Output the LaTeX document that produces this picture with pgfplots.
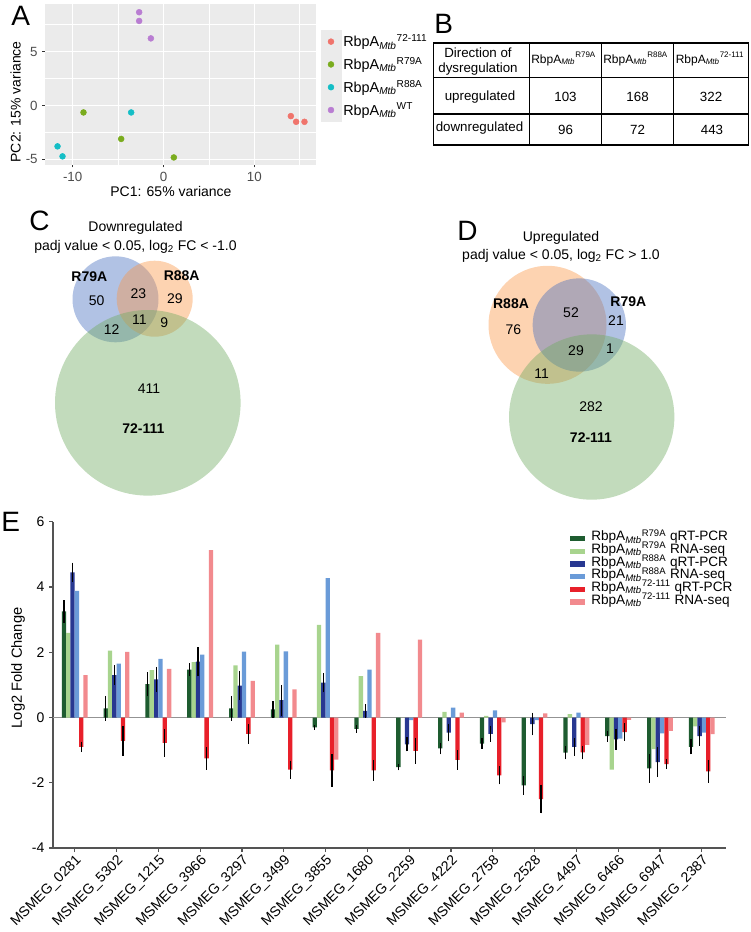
\documentclass[border=0pt]{standalone}
\usepackage{pgfplots}
\pgfplotsset{compat=1.18}
\usepackage{pgfplotstable}
\usepackage{fontspec}
\setmainfont{Liberation Sans}

\definecolor{ggbg}{gray}{0.922}
\definecolor{ggred}{RGB}{240,116,108}
\definecolor{gggreen}{RGB}{122,172,30}
\definecolor{ggcyan}{RGB}{20,190,198}
\definecolor{ggpurple}{RGB}{185,125,210}
\definecolor{gg30}{gray}{0.30}
\definecolor{gg20}{gray}{0.20}
\definecolor{vblue}{RGB}{70,110,190}
\definecolor{vorange}{RGB}{250,150,70}
\definecolor{vgreen}{RGB}{110,170,95}
\definecolor{cdg}{RGB}{30,92,48}
\definecolor{clg}{RGB}{168,212,142}
\definecolor{cdb}{RGB}{40,56,145}
\definecolor{clb}{RGB}{106,155,216}
\definecolor{crd}{RGB}{232,32,42}
\definecolor{cpk}{RGB}{242,138,142}
\definecolor{axgray}{gray}{0.33}

\pgfplotstableread{
x dg dge lg db dbe lb rd rde pk
0 3.25 0.35 2.59 4.45 0.30 3.88 -0.90 0.16 1.30
1 0.28 0.38 2.05 1.30 0.30 1.65 -0.72 0.45 2.01
2 1.02 0.37 1.45 1.17 0.38 1.80 -0.78 0.43 1.49
3 1.47 0.20 1.70 1.71 0.45 1.93 -1.25 0.35 5.13
4 0.28 0.38 1.60 0.98 0.45 2.02 -0.50 0.30 1.12
5 0.25 0.25 2.23 0.53 0.47 2.03 -1.60 0.28 0.86
6 -0.30 0.08 2.84 1.07 0.30 4.27 -1.62 0.50 -1.29
7 -0.35 0.12 1.27 0.20 0.20 1.47 -1.62 0.32 2.59
8 -1.52 0.10 0.00 -0.82 0.22 -0.08 -1.02 0.40 2.39
9 -0.95 0.18 0.17 -0.46 0.27 0.30 -1.30 0.30 0.15
10 -0.80 0.16 0.05 -0.50 0.25 0.22 -1.77 0.28 -0.15
11 -2.08 0.28 0.00 -0.20 0.35 -0.08 -2.50 0.44 0.13
12 -1.08 0.20 0.10 -0.90 0.27 0.15 -1.07 0.21 -0.84
13 -0.57 0.17 -1.60 -0.67 0.33 -0.65 -0.45 0.27 -0.07
14 -1.56 0.44 -0.97 -1.37 0.46 -0.49 -1.43 0.15 -0.41
15 -0.90 0.23 -0.27 -0.57 0.30 -0.46 -1.65 0.35 -0.51
}\Edata

\pgfplotsset{
  pcaleg/.style={legend image code/.code={\fill[ggbg] (-7.5pt,-8.35pt) rectangle (7.5pt,8.35pt); \draw[##1] plot coordinates {(0pt,0pt)};}},
  eleg/.style={legend image code/.code={\fill[##1] (0pt,-1.9pt) rectangle (11.25pt,1.9pt);}},
  venn/.style={only marks, mark=*, mark options={draw opacity=0, fill opacity=0.42}},
  ebar/.style={error bars/.cd, y dir=both, y explicit, error mark=none, error bar style={black, line width=0.9pt}},
  overlay/.style={at={(0pt,-699pt)}, anchor=south west, scale only axis,
    width=562.5pt, height=699pt, xmin=0, xmax=750, ymin=0, ymax=932,
    y dir=reverse, hide axis, clip=false},
}

\begin{document}
\begin{tikzpicture}
\path[use as bounding box] (0,0) rectangle (562.5pt,-699pt);
\begin{scope}[x=0.75pt,y=-0.75pt]
\coordinate (Aorig) at (45,164.65);
\coordinate (Eorig) at (53,848);
\end{scope}

% ---------------- overlay 1: Venn circles
\begin{axis}[overlay]
\addplot[venn, vblue, mark size=32.25pt] coordinates {(115.5,299.3)};
\addplot[venn, vorange, mark size=28.5pt] coordinates {(154.7,298.7)};
\addplot[venn, vgreen, mark size=69.6pt] coordinates {(147.8,402.8)};
\addplot[venn, vorange, mark size=44.25pt] coordinates {(547.5,324.8)};
\addplot[venn, vblue, mark size=35pt] coordinates {(579.3,325)};
\addplot[venn, vgreen, mark size=62pt] coordinates {(591.7,417)};
\end{axis}

% ---------------- overlay 2: letters, texts, table
\begin{axis}[overlay]
\begin{scope}[every node/.style={font=\fontsize{21}{24}\selectfont, inner sep=0pt, anchor=base west}]
\node at (axis cs:11,25) {A};
\node at (axis cs:434,33.3) {B};
\node at (axis cs:29,230) {C};
\node at (axis cs:457,240) {D};
\node at (axis cs:1,531.7) {E};
\end{scope}

\begin{scope}[every node/.style={font=\fontsize{10.5}{12}\selectfont, inner sep=0pt, anchor=base}]
\node at (axis cs:135.5,231.5) {Downregulated};
\node at (axis cs:135.5,250) {padj value < 0.05, log\textsubscript{2} FC < -1.0};
\node at (axis cs:89.3,281.7) {\textbf{R79A}};
\node at (axis cs:181.7,280) {\textbf{R88A}};
\node at (axis cs:96.7,305.5) {50};
\node at (axis cs:138.3,298) {23};
\node at (axis cs:175,303) {29};
\node at (axis cs:111.7,334) {12};
\node at (axis cs:139.3,324.8) {11};
\node at (axis cs:164.3,327.5) {9};
\node at (axis cs:149,393) {411};
\node at (axis cs:143.3,433) {\textbf{72-111}};
\node at (axis cs:561,241) {Upregulated};
\node at (axis cs:561,259.3) {padj value < 0.05, log\textsubscript{2} FC > 1.0};
\node at (axis cs:511,308.3) {\textbf{R88A}};
\node at (axis cs:628.3,306.7) {\textbf{R79A}};
\node at (axis cs:571,317.5) {52};
\node at (axis cs:616,325.5) {21};
\node at (axis cs:513.3,334.8) {76};
\node at (axis cs:576,355.8) {29};
\node at (axis cs:610,353) {1};
\node at (axis cs:541.7,378) {11};
\node at (axis cs:591,411.5) {282};
\node at (axis cs:591,442.5) {\textbf{72-111}};
\end{scope}

\draw[line width=0.9pt] (axis cs:433.3,43) rectangle (axis cs:748.5,145);
\draw[line width=0.9pt] (axis cs:433.3,77.3) -- (axis cs:748.5,77.3);
\draw[line width=0.9pt] (axis cs:433.3,114) -- (axis cs:748.5,114);
\draw[line width=0.9pt] (axis cs:529.5,43) -- (axis cs:529.5,145);
\draw[line width=0.9pt] (axis cs:601.5,43) -- (axis cs:601.5,145);
\draw[line width=0.9pt] (axis cs:673.7,43) -- (axis cs:673.7,145);
\begin{scope}[every node/.style={font=\fontsize{10}{12}\selectfont, inner sep=0pt, anchor=base}]
\node at (axis cs:478,57.5) {Direction of};
\node at (axis cs:478,72.5) {dysregulation};
\node at (axis cs:480,100.5) {upregulated};
\node at (axis cs:479.5,131.5) {downregulated};
\node at (axis cs:565.5,101.5) {103};
\node at (axis cs:637.6,101.5) {168};
\node at (axis cs:711.1,101.5) {322};
\node at (axis cs:565.5,134) {96};
\node at (axis cs:637.6,134) {72};
\node at (axis cs:712,134) {443};
\end{scope}
\begin{scope}[every node/.style={font=\fontsize{9}{11}\selectfont, inner sep=0pt, anchor=base west}]
\node at (axis cs:531,63) {RbpA\textsubscript{\textit{Mtb}}\textsuperscript{R79A}};
\node at (axis cs:603,63) {RbpA\textsubscript{\textit{Mtb}}\textsuperscript{R88A}};
\node at (axis cs:675.5,63) {RbpA\textsubscript{\textit{Mtb}}\textsuperscript{72-111}};
\end{scope}
\end{axis}

% ---------------- Panel A: PCA
\begin{axis}[at={(Aorig)}, anchor=south west, scale only axis,
  width=203.6pt, height=120.3pt,
  xmin=-13.05, xmax=16.85, ymin=-5.5, ymax=9.4,
  axis background/.style={fill=ggbg},
  axis line style={draw=none},
  xtick={-10,0,10}, ytick={-5,0,5},
  minor xtick={-5,5,15}, minor ytick={-2.5,2.5,7.5},
  xmajorgrids, ymajorgrids, xminorgrids, yminorgrids,
  major grid style={white, line width=0.9pt},
  minor grid style={white, line width=0.45pt},
  xtick pos=bottom, ytick pos=left,
  tick align=outside, major tick length=2pt, minor tick length=0pt,
  tick style={color=gg20, line width=0.6pt},
  /pgf/number format/assume math mode=true,
  ticklabel style={font=\fontsize{10}{12}\selectfont, text=gg30},
  xlabel={PC1: 65\% variance}, ylabel={PC2: 15\% variance},
  label style={font=\fontsize{10.5}{12}\selectfont},
  xlabel style={at={(axis description cs:0.464,-0.1686)}, anchor=center},
  ylabel style={at={(axis description cs:-0.108,0.392)}, anchor=center},
  legend style={at={(1.0147,0.8398)}, anchor=north west, draw=none, fill=none,
    inner sep=0pt, row sep=0pt, column sep=1pt,
    font=\fontsize{10.8}{12}\selectfont, nodes={inner sep=0.5pt}},
  legend cell align=left,
]
\addplot[only marks, mark=*, mark size=2.2pt, color=ggred, pcaleg] coordinates {(14.03,-0.99) (14.61,-1.52) (15.53,-1.52)};
\addlegendentry{RbpA\textsubscript{\textit{Mtb}}\textsuperscript{72-111}}
\addplot[only marks, mark=*, mark size=2.2pt, color=gggreen, pcaleg] coordinates {(-8.81,-0.65) (-4.66,-3.11) (1.14,-4.83)};
\addlegendentry{RbpA\textsubscript{\textit{Mtb}}\textsuperscript{R79A}}
\addplot[only marks, mark=*, mark size=2.2pt, color=ggcyan, pcaleg] coordinates {(-3.56,-0.65) (-11.67,-3.8) (-11.12,-4.73)};
\addlegendentry{RbpA\textsubscript{\textit{Mtb}}\textsuperscript{R88A}}
\addplot[only marks, mark=*, mark size=2.2pt, color=ggpurple, pcaleg] coordinates {(-2.68,8.66) (-2.68,7.85) (-1.39,6.23)};
\addlegendentry{RbpA\textsubscript{\textit{Mtb}}\textsuperscript{WT}}
\end{axis}

% ---------------- Panel E: bar chart
\begin{axis}[at={(Eorig)}, anchor=south west, scale only axis,
  width=504.75pt, height=244.7pt,
  xmin=-0.52, xmax=15.58, ymin=-4, ymax=6,
  axis x line*=bottom, axis y line*=left,
  axis line style={-, line width=0.9pt, color=axgray},
  xtick={0,...,15},
  xticklabels={MSMEG\_0281,MSMEG\_5302,MSMEG\_1215,MSMEG\_3966,MSMEG\_3297,MSMEG\_3499,MSMEG\_3855,MSMEG\_1680,MSMEG\_2259,MSMEG\_4222,MSMEG\_2758,MSMEG\_2528,MSMEG\_4497,MSMEG\_6466,MSMEG\_6947,MSMEG\_2387},
  ytick={-4,-2,0,2,4,6},
  tick align=outside, major tick length=3pt,
  tick style={line width=0.9pt, color=axgray},
  /pgf/number format/assume math mode=true,
  xticklabel style={rotate=45, anchor=north east, font=\fontsize{10.6}{12}\selectfont, inner sep=1pt},
  yticklabel style={font=\fontsize{10.5}{12}\selectfont},
  ylabel={Log2 Fold Change},
  ylabel style={at={(axis description cs:-0.052,0.552)}, anchor=center, font=\fontsize{11}{13}\selectfont},
  extra y ticks={0}, extra y tick labels={},
  extra y tick style={ymajorgrids=true, major grid style={color=gray!85, line width=0.9pt}, major tick length=0pt},
  ybar, bar width=0.103,
  legend style={at={(0.7682,0.9684)}, anchor=north west, draw=none, fill=none,
    inner sep=0pt, row sep=0pt, column sep=4pt,
    font=\fontsize{10.2}{11}\selectfont, nodes={inner sep=0.5pt, text height=6pt, text depth=2.5pt}},
  legend cell align=left,
]
\addplot[fill=cdg, draw=none, bar shift=-0.2575, eleg, ebar] table[x=x, y=dg, y error=dge] {\Edata};
\addlegendentry{RbpA\textsubscript{\textit{Mtb}}\textsuperscript{R79A} qRT-PCR}
\addplot[fill=clg, draw=none, bar shift=-0.1545, eleg] table[x=x, y=lg] {\Edata};
\addlegendentry{RbpA\textsubscript{\textit{Mtb}}\textsuperscript{R79A} RNA-seq}
\addplot[fill=cdb, draw=none, bar shift=-0.0515, eleg, ebar] table[x=x, y=db, y error=dbe] {\Edata};
\addlegendentry{RbpA\textsubscript{\textit{Mtb}}\textsuperscript{R88A} qRT-PCR}
\addplot[fill=clb, draw=none, bar shift=0.0515, eleg] table[x=x, y=lb] {\Edata};
\addlegendentry{RbpA\textsubscript{\textit{Mtb}}\textsuperscript{R88A} RNA-seq}
\addplot[fill=crd, draw=none, bar shift=0.1545, eleg, ebar] table[x=x, y=rd, y error=rde] {\Edata};
\addlegendentry{RbpA\textsubscript{\textit{Mtb}}\textsuperscript{72-111} qRT-PCR}
\addplot[fill=cpk, draw=none, bar shift=0.2575, eleg] table[x=x, y=pk] {\Edata};
\addlegendentry{RbpA\textsubscript{\textit{Mtb}}\textsuperscript{72-111} RNA-seq}
\end{axis}
\end{tikzpicture}
\end{document}
